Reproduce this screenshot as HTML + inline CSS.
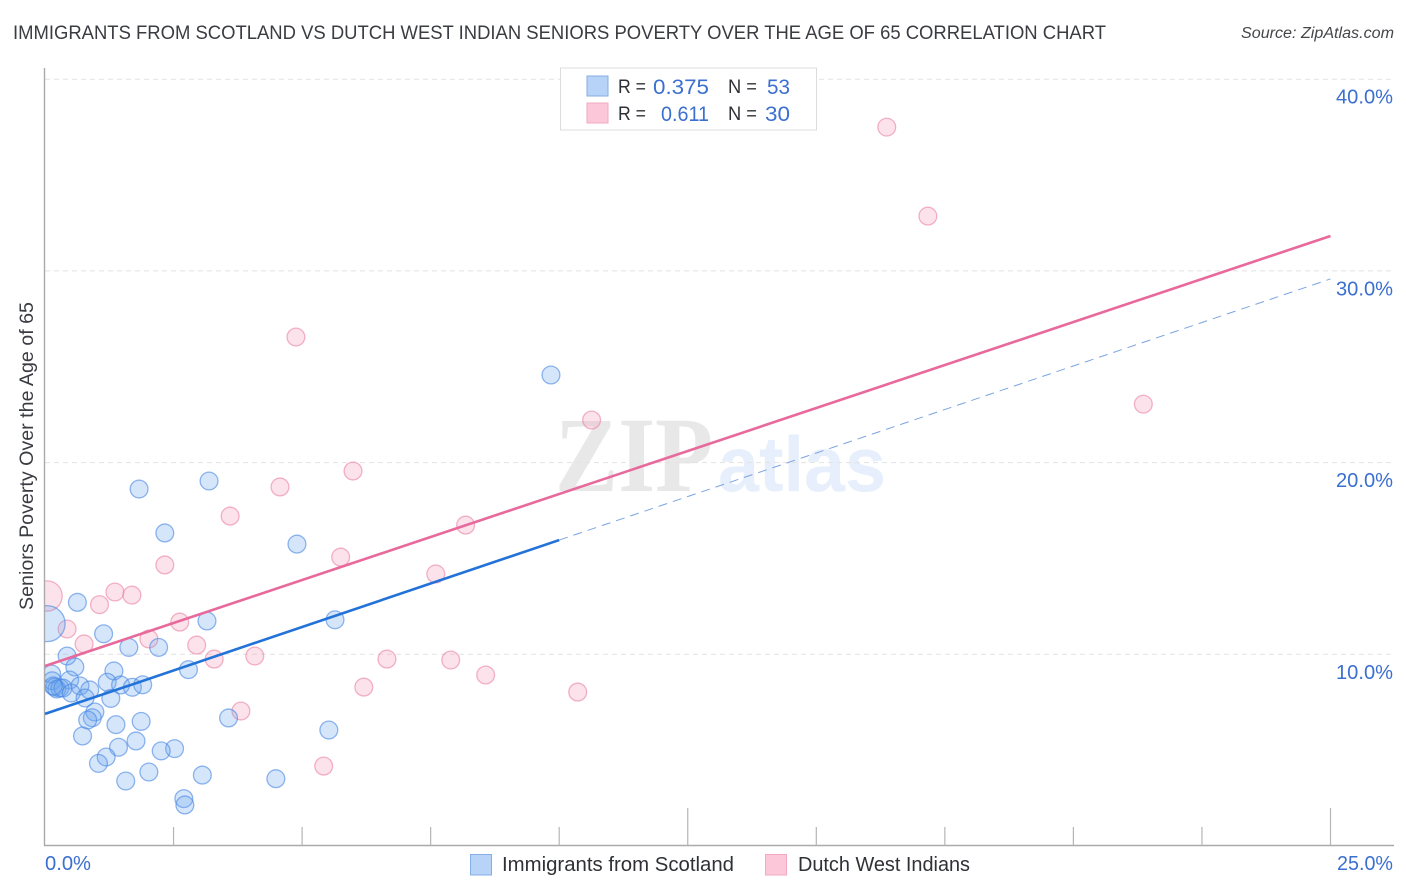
<!DOCTYPE html>
<html lang="en">
<head>
<meta charset="utf-8">
<title>Immigrants from Scotland vs Dutch West Indian Seniors Poverty Correlation Chart</title>
<style>
html,body{margin:0;padding:0;background:#fff;}
svg{display:block;font-family:"Liberation Sans",sans-serif;}
</style>
</head>
<body>
<svg id="chart" xmlns="http://www.w3.org/2000/svg" width="1406" height="892" viewBox="0 0 1406 892">
  <defs>
    <clipPath id="plot-clip"><rect x="45" y="60" width="1349" height="785"/></clipPath>
  </defs>
  <rect x="0" y="0" width="1406" height="892" fill="#ffffff"/>
  <text x="13" y="39" font-size="19.5" fill="#3a3c42" textLength="1093" lengthAdjust="spacingAndGlyphs">IMMIGRANTS FROM SCOTLAND VS DUTCH WEST INDIAN SENIORS POVERTY OVER THE AGE OF 65 CORRELATION CHART</text>
  <text x="1241" y="38" font-size="15.5" font-style="italic" fill="#44464a" textLength="153" lengthAdjust="spacingAndGlyphs">Source: ZipAtlas.com</text>
  <g>
    <text x="555" y="491" font-family="'Liberation Serif',serif" font-weight="bold" font-size="107" fill="#e8e8e8" textLength="158" lengthAdjust="spacingAndGlyphs">ZIP</text>
    <text x="718" y="491" font-size="78" font-weight="bold" fill="#e6effb" textLength="168" lengthAdjust="spacingAndGlyphs">atlas</text>
  </g>
  <g id="grid"></g>
  <g id="axes"></g>
  <g id="marks" clip-path="url(#plot-clip)"></g>
  <g id="trends"></g>
  <g id="labels"></g>
  <text transform="translate(33,610) rotate(-90)" font-size="19" fill="#3a3c42" textLength="308" lengthAdjust="spacingAndGlyphs">Seniors Poverty Over the Age of 65</text>

  <g>
    <rect x="560.5" y="68" width="256" height="62" fill="#ffffff" stroke="#dcdcdc" stroke-width="1"/>
    <rect x="587" y="76" width="21" height="20" fill="#b8d3f8" stroke="#86aee6" stroke-width="1"/>
    <rect x="587" y="103" width="21" height="20" fill="#fcc8d9" stroke="#f2a9c0" stroke-width="1"/>
    <text x="618" y="93" font-size="19.5" fill="#2f3136" textLength="28" lengthAdjust="spacingAndGlyphs">R =</text>
    <text x="653" y="94" font-size="21" fill="#3b6fd0" textLength="56" lengthAdjust="spacingAndGlyphs">0.375</text>
    <text x="728" y="93" font-size="19.5" fill="#2f3136" textLength="29" lengthAdjust="spacingAndGlyphs">N =</text>
    <text x="767" y="94" font-size="21" fill="#3b6fd0" textLength="23" lengthAdjust="spacingAndGlyphs">53</text>
    <text x="618" y="120" font-size="19.5" fill="#2f3136" textLength="28" lengthAdjust="spacingAndGlyphs">R =</text>
    <text x="661" y="121" font-size="21" fill="#3b6fd0" textLength="48" lengthAdjust="spacingAndGlyphs">0.611</text>
    <text x="728" y="120" font-size="19.5" fill="#2f3136" textLength="29" lengthAdjust="spacingAndGlyphs">N =</text>
    <text x="765" y="121" font-size="21" fill="#3b6fd0" textLength="25" lengthAdjust="spacingAndGlyphs">30</text>
  </g>

  <g>
    <rect x="470.5" y="854.5" width="21" height="20.5" fill="#b8d3f8" stroke="#86aee6" stroke-width="1"/>
    <text x="502" y="871" font-size="20" fill="#2f3136" textLength="232" lengthAdjust="spacingAndGlyphs">Immigrants from Scotland</text>
    <rect x="765.5" y="854.5" width="21" height="20.5" fill="#fcc8d9" stroke="#f2a9c0" stroke-width="1"/>
    <text x="798" y="871" font-size="20" fill="#2f3136" textLength="172" lengthAdjust="spacingAndGlyphs">Dutch West Indians</text>
  </g>
</svg>

<script>
const scotlandX = [9.84,1.83,3.19,2.33,4.90,0.63,0.04,1.14,1.63,2.21,0.43,0.58,1.34,3.15,5.64,2.79,0.13,0.14,0.48,1.21,1.47,1.70,1.90,0.68,0.87,0.19,0.23,0.29,0.35,0.16,0.51,0.78,1.28,0.97,0.92,0.83,1.38,1.87,3.57,5.52,0.73,1.77,1.43,2.52,2.26,1.19,1.04,2.02,3.06,1.57,4.49,2.70,2.72];
const scotlandY = [24.57,18.62,19.04,16.33,15.75,12.71,11.60,11.07,10.36,10.36,9.91,9.34,9.13,11.74,11.80,9.20,8.97,8.62,8.66,8.54,8.40,8.28,8.41,8.35,8.14,8.29,8.19,8.24,8.24,8.35,7.98,7.72,7.70,6.99,6.69,6.57,6.33,6.50,6.68,6.05,5.74,5.48,5.15,5.08,4.96,4.64,4.31,3.86,3.70,3.39,3.51,2.47,2.14];
const scotlandWeight = [1,1,1,1,1,1,4.1,1,1,1,1,1,1,1,1,1,1,1,1,1,1,1,1,1,1,1,1,1,1,1,1,1,1,1,1,1,1,1,1,1,1,1,1,1,1,1,1,1,1,1,1,1,1];

const dutchX = [16.37,17.17,4.88,21.36,10.63,5.99,4.57,3.60,8.18,5.75,2.33,7.60,1.36,1.69,1.06,0.04,2.62,0.43,2.02,0.76,2.95,3.29,4.08,6.65,7.89,8.57,6.20,10.36,3.81,5.42];
const dutchY = [37.50,32.86,26.55,23.05,22.22,19.56,18.73,17.21,16.74,15.07,14.66,14.19,13.25,13.09,12.59,13.04,11.68,11.32,10.80,10.54,10.48,9.75,9.91,9.75,9.70,8.92,8.29,8.03,7.04,4.17];
const dutchWeight = [1,1,1,1,1,1,1,1,1,1,1,1,1,1,1,2.9,1,1,1,1,1,1,1,1,1,1,1,1,1,1];

const scotlandTrendX = [0,10,25];
const scotlandTrendY = [6.89,15.96,29.58];
const dutchTrendX = [0,25];
const dutchTrendY = [9.39,31.82];

const yTicks = [10,20,30,40];
const yTickLabels = ['10.0%','20.0%','30.0%','40.0%'];
const xTicks = [0,2.5,5,7.5,10,12.5,15,17.5,20,22.5,25];
const xMajorTicks = [12.5,25];
const xEndLabels = ['0.0%','25.0%'];

const NS = 'http://www.w3.org/2000/svg';
const xAxis = v => 45 + v * 51.42;
const yAxis = v => 846 - v * 19.17;
const radius = w => 8.9 * Math.sqrt(w);

function make(tag, attrs, parent) {
  const el = document.createElementNS(NS, tag);
  for (const k in attrs) el.setAttribute(k, attrs[k]);
  parent.appendChild(el);
  return el;
}

const grid = document.getElementById('grid');
const axes = document.getElementById('axes');
const marks = document.getElementById('marks');
const trends = document.getElementById('trends');
const labels = document.getElementById('labels');

yTicks.forEach(function (t) {
  const line = make('line', {x1: 45, x2: 1394, y1: yAxis(t), y2: yAxis(t), stroke: '#e2e2e2', 'stroke-width': 1, 'stroke-dasharray': '5 4'}, grid);
  
  
});

const yLine = make('line', {x1: 44.5, x2: 44.5, y1: 68, y2: 845.5, stroke: '#aaaaaa', 'stroke-width': 1.4}, axes);


const xLine = make('line', {x1: 44, x2: 1394, y1: 845.5, y2: 845.5, stroke: '#aaaaaa', 'stroke-width': 1.4}, axes);



xTicks.forEach(function (t) {
  if (t === 0) return;
  const top = xMajorTicks.includes(t) ? 808 : 827;
  const tick = make('line', {x1: xAxis(t), x2: xAxis(t), y1: top, y2: 845.5, stroke: '#b5b5b5', 'stroke-width': 1.2}, axes);
  
  
});

function drawSeries(xs, ys, ws, fill, stroke, name) {
  xs.forEach(function (x, i) {
    const c = make('circle', {cx: xAxis(x), cy: yAxis(ys[i]), r: radius(ws[i]), fill: fill, stroke: stroke, 'stroke-width': 1.3}, marks);
    
    
  });
}
drawSeries(dutchX, dutchY, dutchWeight, 'rgba(246,150,178,0.28)', 'rgba(234,130,162,0.6)', 'point-dutch-west-indians');
drawSeries(scotlandX, scotlandY, scotlandWeight, 'rgba(104,162,238,0.27)', 'rgba(70,134,226,0.6)', 'point-immigrants-from-scotland');

const blueSolid = make('line', {x1: xAxis(scotlandTrendX[0]), y1: yAxis(scotlandTrendY[0]), x2: xAxis(scotlandTrendX[1]), y2: yAxis(scotlandTrendY[1]), stroke: '#2272d8', 'stroke-width': 2.6}, trends);


const blueDash = make('line', {x1: xAxis(scotlandTrendX[1]), y1: yAxis(scotlandTrendY[1]), x2: xAxis(scotlandTrendX[2]), y2: yAxis(scotlandTrendY[2]), stroke: '#7ba4e2', 'stroke-width': 1, 'stroke-dasharray': '9 6'}, trends);


const pinkLine = make('line', {x1: xAxis(dutchTrendX[0]), y1: yAxis(dutchTrendY[0]), x2: xAxis(dutchTrendX[1]), y2: yAxis(dutchTrendY[1]), stroke: '#e8699b', 'stroke-width': 2.6}, trends);



yTicks.forEach(function (t, i) {
  const label = make('text', {x: 1393, y: yAxis(t) + 24.5, 'text-anchor': 'end', 'font-size': 20, fill: '#3b6fd0', textLength: 57, lengthAdjust: 'spacingAndGlyphs'}, labels);
  label.textContent = yTickLabels[i];
  
  
});

const xStart = make('text', {x: 45, y: 870, 'font-size': 20, fill: '#3b6fd0', textLength: 46, lengthAdjust: 'spacingAndGlyphs'}, labels);
xStart.textContent = xEndLabels[0];


const xEnd = make('text', {x: 1393, y: 870, 'text-anchor': 'end', 'font-size': 20, fill: '#3b6fd0', textLength: 56, lengthAdjust: 'spacingAndGlyphs'}, labels);
xEnd.textContent = xEndLabels[1];


</script>
</body>
</html>
